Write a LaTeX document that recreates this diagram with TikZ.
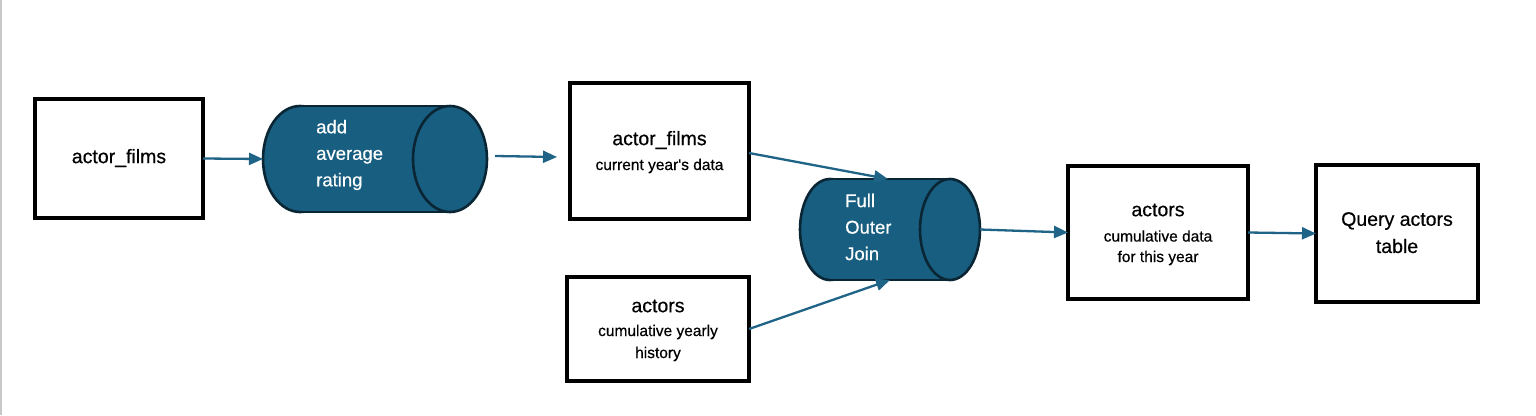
\documentclass[tikz,border=0pt]{standalone}
\usepackage{fontspec}
\setmainfont{Liberation Sans}
\newfontfamily\medfont[FakeBold=0.5]{Liberation Sans}
\usetikzlibrary{arrows.meta,calc}
\definecolor{cylfill}{RGB}{23,94,128}
\definecolor{cyledge}{RGB}{10,38,52}
\definecolor{arrowc}{RGB}{31,100,135}
\tikzset{
  box/.style={draw=black, line width=3.5pt, fill=white, inner sep=0pt, outer sep=0pt},
  ttl/.style={font=\medfont\fontsize{19.5}{23}\selectfont, text=black, inner sep=0pt},
  sub/.style={font=\medfont\fontsize{15.5}{19}\selectfont, text=black, inner sep=0pt},
  cyltxt/.style={font=\medfont\fontsize{18.5}{26.5}\selectfont, text=white, align=left, anchor=west, inner sep=0pt},
  flow/.style={draw=arrowc, line width=2.3pt, -{Triangle[length=14pt,width=12pt]}},
  ghost/.style={inner sep=0pt, outer sep=0pt}
}
\begin{document}
\begin{tikzpicture}[x=1pt,y=-1pt]
\useasboundingbox (0,0) rectangle (1536,415);
\fill[white] (0,0) rectangle (1536,415);
\draw[line width=1.8pt, draw={rgb,255:red,200;green,200;blue,200}] (1,0) -- (1,415);

% boxes
\node[box, minimum width=168pt, minimum height=119pt] (box1) at (119,158.5) {};
\node[ttl] (box1t) at (119,158) {actor\_films};

\node[box, minimum width=179pt, minimum height=136pt] (box2) at (659.5,151) {};
\node[ttl] (box2t) at (659.5,140) {actor\_films};
\node[sub] (box2s) at (659.5,166) {current year\symbol{39}s data};

\node[box, minimum width=182pt, minimum height=104pt] (box3) at (658,329) {};
\node[ttl] (box3t) at (658,306) {actors};
\node[sub] (box3s) at (658,332) {cumulative yearly};
\node[sub] (box3u) at (658,354) {history};

\node[box, minimum width=180pt, minimum height=133pt] (box4) at (1158,232.5) {};
\node[ttl] (box4t) at (1158,210) {actors};
\node[sub] (box4s) at (1158,236) {cumulative data};
\node[sub] (box4u) at (1158,258) {for this year};

\node[box, minimum width=162pt, minimum height=137pt] (box5) at (1397,233.5) {};
\node[ttl] (box5t) at (1397,221) {Query actors};
\node[ttl] (box5u) at (1397,246) {table};

% cylinder 1
\node[ghost, minimum width=224pt, minimum height=106pt] (cyl1) at (375,159) {};
\filldraw[fill=cylfill, draw=cyledge, line width=2.6pt] (300,159) ellipse[x radius=37, y radius=53];
\fill[cylfill] (300,106) rectangle (450,212);
\draw[cyledge, line width=2.6pt] (300,106) -- (450,106) (300,212) -- (450,212);
\filldraw[fill=cylfill, draw=cyledge, line width=2.6pt] (450,159) ellipse[x radius=37, y radius=53];
\node[cyltxt] (cyl1t) at (316,155) {add\\average\\rating};

% cylinder 2
\node[ghost, minimum width=180pt, minimum height=101pt] (cyl2) at (890,229.5) {};
\filldraw[fill=cylfill, draw=cyledge, line width=2.6pt] (830,229.5) ellipse[x radius=30, y radius=50.5];
\fill[cylfill] (830,179) rectangle (950,280);
\draw[cyledge, line width=2.6pt] (830,179) -- (950,179) (830,280) -- (950,280);
\filldraw[fill=cylfill, draw=cyledge, line width=2.6pt] (950,229.5) ellipse[x radius=30, y radius=50.5];
\node[cyltxt] (cyl2t) at (845,227) {Full\\Outer\\Join};

% connectors
\coordinate (a2s) at ($(cyl1.east)+(8,-3)$);
\coordinate (a2e) at ($(box2.west)+(-13,6)$);
\draw[flow] (box1.east) -- (cyl1.west);
\draw[flow] (a2s) -- (a2e);
\draw[flow] ($(box2.east)+(0,2)$) -- ($(cyl2.north)+(-2,0)$);
\draw[flow] (box3.east) -- (cyl2.south);
\draw[flow] (cyl2.east) -- (box4.west);
\draw[flow] (box4.east) -- (box5.west);
\end{tikzpicture}
\end{document}
